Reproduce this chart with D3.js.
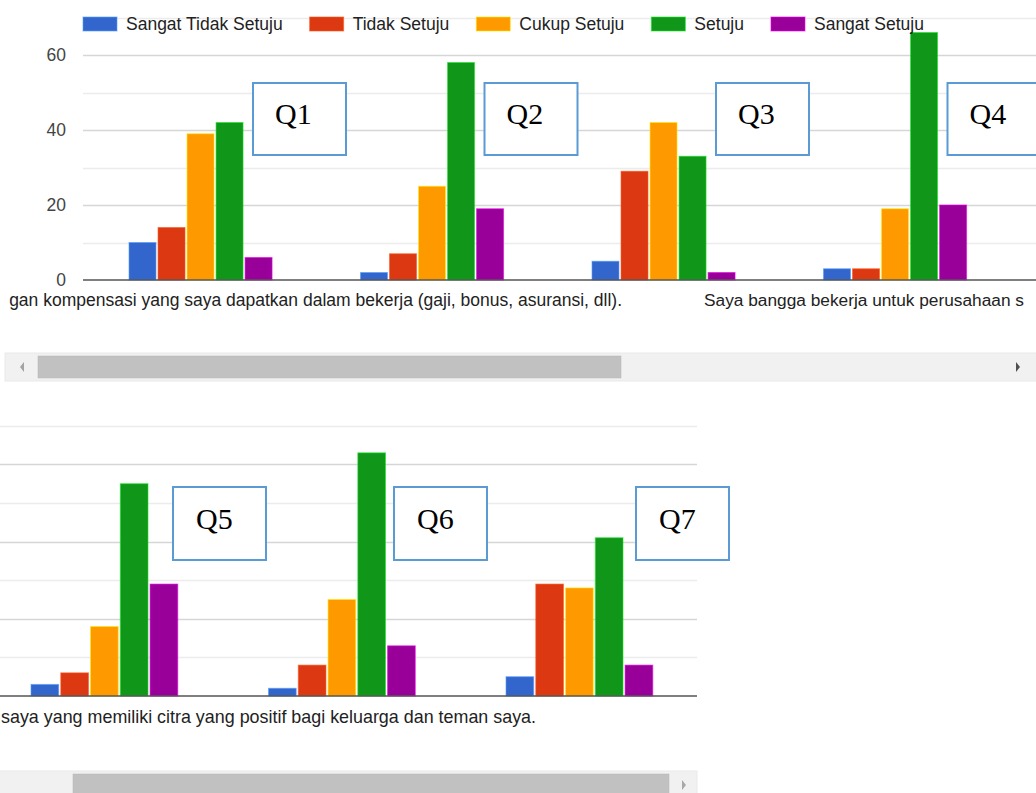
<!DOCTYPE html>
<html>
<head>
<meta charset="utf-8">
<script src="https://cdn.jsdelivr.net/npm/d3@7"></script>
<style>
  html, body { margin: 0; padding: 0; background: #fff; overflow: hidden; }
  svg { display: block; }
</style>
</head>
<body>
<svg id="chart" width="1036" height="793"></svg>
<script>
// ---------------- DATA ----------------
const categories = ["Q1", "Q2", "Q3", "Q4", "Q5", "Q6", "Q7"];
const seriesNames = ["Sangat Tidak Setuju", "Tidak Setuju", "Cukup Setuju", "Setuju", "Sangat Setuju"];
const sangatTidakSetuju = [10, 2, 5, 3, 3, 2, 5];
const tidakSetuju       = [14, 7, 29, 3, 6, 8, 29];
const cukupSetuju       = [39, 25, 42, 19, 18, 25, 28];
const setuju            = [42, 58, 33, 66, 55, 63, 41];
const sangatSetuju      = [6, 19, 2, 20, 29, 13, 8];
const yTickLabels = [0, 20, 40, 60];
const gridValues = [10, 20, 30, 40, 50, 60, 70];
const topCategories = ["Q1", "Q2", "Q3", "Q4"];
const bottomCategories = ["Q5", "Q6", "Q7"];
const topAxisTexts = [
  "gan kompensasi yang saya dapatkan dalam bekerja (gaji, bonus, asuransi, dll).",
  "Saya bangga bekerja untuk perusahaan s"
];
const bottomAxisTexts = ["saya yang memiliki citra yang positif bagi keluarga dan teman saya."];

// ---------------- STYLE ----------------
const colors = ["#3366cc", "#dc3912", "#ff9900", "#109618", "#990099"];
const seriesValues = [sangatTidakSetuju, tidakSetuju, cukupSetuju, setuju, sangatSetuju];
const font = "'Liberation Sans', Arial, sans-serif";
const serif = "'Liberation Serif', 'Times New Roman', serif";

const svg = d3.select("#chart");

function drawPanel(cfg) {
  const g = svg.append("g");
  const y = d3.scaleLinear().domain([0, 70]).range([cfg.baseline, cfg.baseline - 70 * cfg.unit]);
  const po = 0.2, pi = 0.382;
  const n = cfg.cats.length;
  const x0 = cfg.groupStart - cfg.step * po;
  const x = d3.scaleBand().domain(cfg.cats)
    .range([x0, x0 + cfg.step * (n - pi + 2 * po)])
    .paddingInner(pi).paddingOuter(po);
  const xs = d3.scaleBand().domain(d3.range(seriesNames.length))
    .range([0, x.bandwidth()]).paddingInner(0.07);

  // gridlines
  g.selectAll("line.grid").data(gridValues).join("line")
    .attr("x1", cfg.left).attr("x2", cfg.right)
    .attr("y1", d => Math.round(y(d)) + 0.5).attr("y2", d => Math.round(y(d)) + 0.5)
    .attr("stroke", d => d % 20 === 0 ? "#d6d6d6" : "#ececec")
    .attr("stroke-width", 1.5);

  // y tick labels
  if (cfg.showYLabels) {
    g.selectAll("text.ytick").data(yTickLabels).join("text")
      .attr("x", cfg.left - 17).attr("y", d => y(d) + 6)
      .attr("text-anchor", "end")
      .attr("font-family", font).attr("font-size", 17.5).attr("fill", "#444")
      .text(d => d);
  }

  // bars
  const groups = g.selectAll("g.grp").data(cfg.cats).join("g")
    .attr("transform", c => `translate(${x(c)},0)`);
  groups.selectAll("rect").data(c => {
    const idx = categories.indexOf(c);
    return seriesValues.map((arr, s) => ({ s, v: arr[idx] }));
  }).join("rect")
    .attr("x", d => xs(d.s)).attr("width", xs.bandwidth())
    .attr("y", d => y(d.v)).attr("height", d => y(0) - y(d.v))
    .attr("fill", d => colors[d.s])
    .attr("stroke", d => d3.color(colors[d.s]).brighter(1.2))
    .attr("stroke-opacity", 0.6).attr("stroke-width", 1);

  // baseline
  g.append("line")
    .attr("x1", cfg.left).attr("x2", cfg.right)
    .attr("y1", y(0)).attr("y2", y(0))
    .attr("stroke", "#555").attr("stroke-width", 1.6);

  // annotation boxes
  cfg.cats.forEach((c, i) => {
    const bx = cfg.boxes ? cfg.boxes[i] : x(c) + cfg.boxOffset;
    g.append("rect")
      .attr("x", bx).attr("y", cfg.boxY).attr("width", cfg.boxW).attr("height", cfg.boxH)
      .attr("fill", "#fff").attr("stroke", "#5b9bd5").attr("stroke-width", 2);
    g.append("text")
      .attr("x", bx + cfg.boxTextDx).attr("y", cfg.boxY + cfg.boxTextDy)
      .attr("font-family", serif).attr("font-size", cfg.boxFont).attr("fill", "#000")
      .text(c);
  });

  // axis category texts
  cfg.axisTexts.forEach(t => {
    g.append("text")
      .attr("x", t.x).attr("y", t.y)
      .attr("text-anchor", t.anchor)
      .attr("font-family", font).attr("font-size", t.size).attr("fill", "#222")
      .text(t.text);
  });

  // scrollbar
  const sb = cfg.scroll;
  g.append("rect").attr("x", sb.x).attr("y", sb.y).attr("width", sb.w).attr("height", sb.h)
    .attr("fill", "#f1f1f1").attr("stroke", "#e9e9e9");
  g.append("rect").attr("x", sb.tx).attr("y", sb.y + 3).attr("width", sb.tw).attr("height", sb.h - 6)
    .attr("fill", "#c1c1c1").attr("stroke", "#b8b8b8").attr("stroke-width", 0.5);
  if (sb.leftArrow != null) {
    const ax = sb.leftArrow, cy = sb.y + sb.h / 2;
    g.append("path").attr("d", `M${ax},${cy} L${ax + 4},${cy - 5} L${ax + 4},${cy + 5} Z`).attr("fill", "#a3a3a3");
  }
  if (sb.rightArrow != null) {
    const ax = sb.rightArrow, cy = sb.y + sb.h / 2;
    g.append("path").attr("d", `M${ax + 4},${cy} L${ax},${cy - 5} L${ax},${cy + 5} Z`).attr("fill", sb.rightColor);
  }
}

drawPanel({
  cats: topCategories, left: 83, right: 1036, baseline: 280, unit: 3.75,
  groupStart: 129, step: 231.5, showYLabels: true,
  boxOffset: 124, boxY: 83, boxW: 93, boxH: 72,
  boxTextDx: 22, boxTextDy: 41, boxFont: 30,
  axisTexts: [
    { text: topAxisTexts[0], x: 622, y: 306, anchor: "end", size: 17.5 },
    { text: topAxisTexts[1], x: 704, y: 306, anchor: "start", size: 17.3 }
  ],
  scroll: { x: 5, y: 353, w: 1040, h: 28, tx: 38, tw: 583, leftArrow: 20, rightArrow: 1016, rightColor: "#505050" }
});

drawPanel({
  cats: bottomCategories, left: 0, right: 697, baseline: 696, unit: 3.86,
  groupStart: 31, step: 237.5, showYLabels: false,
  boxes: [173, 394, 636], boxY: 487, boxW: 93, boxH: 73,
  boxTextDx: 23, boxTextDy: 42, boxFont: 30,
  axisTexts: [
    { text: bottomAxisTexts[0], x: 1, y: 723, anchor: "start", size: 17.9 }
  ],
  scroll: { x: -2, y: 771, w: 699, h: 28, tx: 73, tw: 596, leftArrow: null, rightArrow: 682, rightColor: "#a8a8a8" }
});

// legend (top)
const legend = svg.append("g").attr("transform", "translate(83,17)");
let lx = 0;
seriesNames.forEach((name, i) => {
  const item = legend.append("g").attr("transform", `translate(${lx},0)`);
  item.append("rect").attr("width", 34).attr("height", 14).attr("fill", colors[i])
    .attr("stroke", d3.color(colors[i]).brighter(1.2)).attr("stroke-opacity", 0.6);
  const t = item.append("text").attr("x", 43).attr("y", 13)
    .attr("font-family", font).attr("font-size", 17.5).attr("fill", "#222").text(name);
  lx += 43 + t.node().getComputedTextLength() + 27;
});
</script>
</body>
</html>
